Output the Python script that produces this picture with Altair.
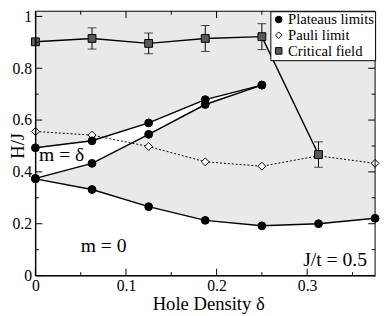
import altair as alt
import pandas as pd

# ---- data ----
x_all = [0, 0.0625, 0.125, 0.1875, 0.25, 0.3125, 0.375]
plateau_low = [0.373, 0.332, 0.266, 0.213, 0.192, 0.200, 0.221]
x_mid = [0, 0.0625, 0.125, 0.1875, 0.25]
plateau_mid_low = [0.375, 0.433, 0.545, 0.660, 0.735]
plateau_mid_high = [0.493, 0.520, 0.589, 0.679, 0.735]
pauli = [0.556, 0.542, 0.498, 0.439, 0.422, 0.462, 0.433]
x_crit = [0, 0.0625, 0.125, 0.1875, 0.25, 0.3125]
crit = [0.902, 0.915, 0.896, 0.915, 0.922, 0.467]
crit_err = [0.013, 0.041, 0.040, 0.050, 0.050, 0.049]

series = ["Plateaus limits", "Pauli limit", "Critical field"]
x_major = [0, 0.1, 0.2, 0.3]
x_minor = [0.05, 0.15, 0.25, 0.35]
y_major = [0, 0.2, 0.4, 0.6, 0.8, 1.0]
y_minor = [0.1, 0.3, 0.5, 0.7, 0.9]
x_limits = [0, 0.375]
y_limits = [0, 1.02]

notes_left = ["m = δ", "m = 0"]
notes_left_x = [0.004, 0.05]
notes_left_y = [0.464, 0.112]
notes_right = ["J/t = 0.5"]
notes_right_x = [0.366]
notes_right_y = [0.059]

W, H = 347, 270
FONT = "Liberation Serif, Times New Roman, serif"
xs = alt.Scale(domain=x_limits, nice=False, zero=False)
ys = alt.Scale(domain=y_limits, nice=False, zero=False)

xaxis = alt.Axis(values=x_major, ticks=False, grid=False, title="Hole Density δ",
                 labelExpr="datum.value == 0 ? '0' : format(datum.value, '.1f')",
                 labelFont=FONT, labelFontSize=16, labelColor="black", labelPadding=2,
                 labelFlush=False, labelOverlap=False,
                 titleFont=FONT, titleFontSize=19, titleFontWeight="normal", titleColor="black",
                 titleX=W / 2 + 3, titleY=35, titleAlign="center", titleBaseline="alphabetic",
                 domainColor="black", domainWidth=1, zindex=1)
yaxis = alt.Axis(values=y_major, ticks=False, grid=False, title="H/J",
                 labelExpr="datum.value == 0 ? '0' : (datum.value == 1 ? '1' : format(datum.value, '.1f'))",
                 labelFont=FONT, labelFontSize=16, labelColor="black", labelPadding=4,
                 labelFlush=False, labelOverlap=False,
                 titleFont=FONT, titleFontSize=19, titleFontWeight="normal", titleColor="black",
                 titleAngle=270, titleX=-18, titleY=137, titleAlign="center", titleBaseline="middle",
                 domainColor="black", domainWidth=1, zindex=1)


def X(f):
    return alt.X(f, type="quantitative", scale=xs, axis=xaxis)


def Y(f):
    return alt.Y(f, type="quantitative", scale=ys, axis=yaxis)


# ---- tables ----
fill_df = pd.DataFrame({"x": x_all, "y": plateau_low, "top": [y_limits[1]] * len(x_all)})
wedge_df = pd.DataFrame({"x": x_mid, "lo": plateau_mid_low, "hi": plateau_mid_high})

lines = []
for name, xv, yv in [("low", x_all, plateau_low), ("midlo", x_mid, plateau_mid_low),
                     ("midhi", x_mid, plateau_mid_high), ("crit", x_crit, crit)]:
    for a, b in zip(xv, yv):
        lines.append({"x": a, "y": b, "curve": name})
lines_df = pd.DataFrame(lines)
pauli_df = pd.DataFrame({"x": x_all, "y": pauli})

pts = []
for a, b in zip(x_all, pauli):
    pts.append({"x": a, "y": b, "series": series[1]})
for xv, yv in [(x_all, plateau_low), (x_mid, plateau_mid_low), (x_mid, plateau_mid_high)]:
    for a, b in zip(xv, yv):
        pts.append({"x": a, "y": b, "series": series[0]})
for a, b in zip(x_crit, crit):
    pts.append({"x": a, "y": b, "series": series[2]})
pts_df = pd.DataFrame(pts)

err_df = pd.DataFrame({"x": x_crit,
                       "lo": [c - e for c, e in zip(crit, crit_err)],
                       "hi": [c + e for c, e in zip(crit, crit_err)]})

# ---- layers ----
fill = alt.Chart(fill_df).mark_area(color="#e9e9e9", opacity=1).encode(x=X("x"), y=Y("y"), y2="top")
wedge = alt.Chart(wedge_df).mark_area(color="white", opacity=1).encode(x=X("x"), y=Y("lo"), y2="hi")

pauli_line = alt.Chart(pauli_df).mark_line(color="black", strokeWidth=1, strokeDash=[2, 2]).encode(
    x=X("x"), y=Y("y"))
solid_lines = alt.Chart(lines_df).mark_line(color="black", strokeWidth=1.5).encode(
    x=X("x"), y=Y("y"), detail="curve:N")

err_rule = alt.Chart(err_df).mark_rule(color="black", strokeWidth=1).encode(x=X("x"), y=Y("lo"), y2="hi")
err_lo = alt.Chart(err_df).mark_tick(color="black", orient="horizontal", size=9, thickness=1).encode(
    x=X("x"), y=Y("lo"))
err_hi = alt.Chart(err_df).mark_tick(color="black", orient="horizontal", size=9, thickness=1).encode(
    x=X("x"), y=Y("hi"))

leg = alt.Legend(title=None, labelFont=FONT, labelFontSize=15, labelColor="black")
points = alt.Chart(pts_df).mark_point(filled=True, size=64, strokeWidth=1, opacity=1).encode(
    x=X("x"), y=Y("y"),
    fill=alt.Fill("series:N", scale=alt.Scale(domain=series, range=["black", "white", "#5a5a5a"]), legend=leg),
    stroke=alt.Stroke("series:N", scale=alt.Scale(domain=series, range=["black", "black", "black"]), legend=leg),
    shape=alt.Shape("series:N", scale=alt.Scale(domain=series, range=["circle", "diamond", "square"]), legend=leg),
)

tl = alt.Chart(pd.DataFrame({"x": notes_left_x, "y": notes_left_y, "t": notes_left})).mark_text(
    font=FONT, fontSize=20, align="left", baseline="middle", color="black").encode(
    x=X("x"), y=Y("y"), text="t:N")
tr = alt.Chart(pd.DataFrame({"x": notes_right_x, "y": notes_right_y, "t": notes_right})).mark_text(
    font=FONT, fontSize=20, align="right", baseline="middle", color="black").encode(
    x=X("x"), y=Y("y"), text="t:N")


def xticks(vals, ln):
    base = alt.Chart(pd.DataFrame({"v": vals})).mark_rule(color="black", strokeWidth=1)
    return [base.encode(x=X("v"), y=alt.value(H), y2=alt.value(H - ln)),
            base.encode(x=X("v"), y=alt.value(0), y2=alt.value(ln))]


def yticks(vals, ln):
    base = alt.Chart(pd.DataFrame({"v": vals})).mark_rule(color="black", strokeWidth=1)
    return [base.encode(y=Y("v"), x=alt.value(0), x2=alt.value(ln)),
            base.encode(y=Y("v"), x=alt.value(W), x2=alt.value(W - ln))]


frame = alt.Chart(pd.DataFrame({"a": [0]})).mark_rect(fillOpacity=0, stroke="black", strokeWidth=1).encode(
    x=alt.value(0), x2=alt.value(W), y=alt.value(0), y2=alt.value(H))

layers = [fill, wedge, pauli_line, solid_lines, err_rule, err_lo, err_hi, points, tl, tr, frame]
layers += xticks(x_major, 7) + xticks(x_minor, 3.5) + yticks(y_major, 7) + yticks(y_minor, 3.5)

chart = alt.layer(*layers).properties(
    width=W, height=H,
    autosize=alt.AutoSizeParams(type="none"),
    padding={"left": 28, "top": 0, "right": 5, "bottom": 38},
).configure(font=FONT).configure_view(stroke=None).configure_legend(
    orient="top-right", offset=0, fillColor="white", strokeColor="black", strokeWidth=1,
    padding=1, labelFont=FONT, labelFontSize=15, labelColor="black", labelOffset=2,
    symbolSize=45, symbolStrokeWidth=1, rowPadding=0, labelLimit=300,
)

chart.save("out.html", embed_options={"renderer": "svg", "actions": False})
